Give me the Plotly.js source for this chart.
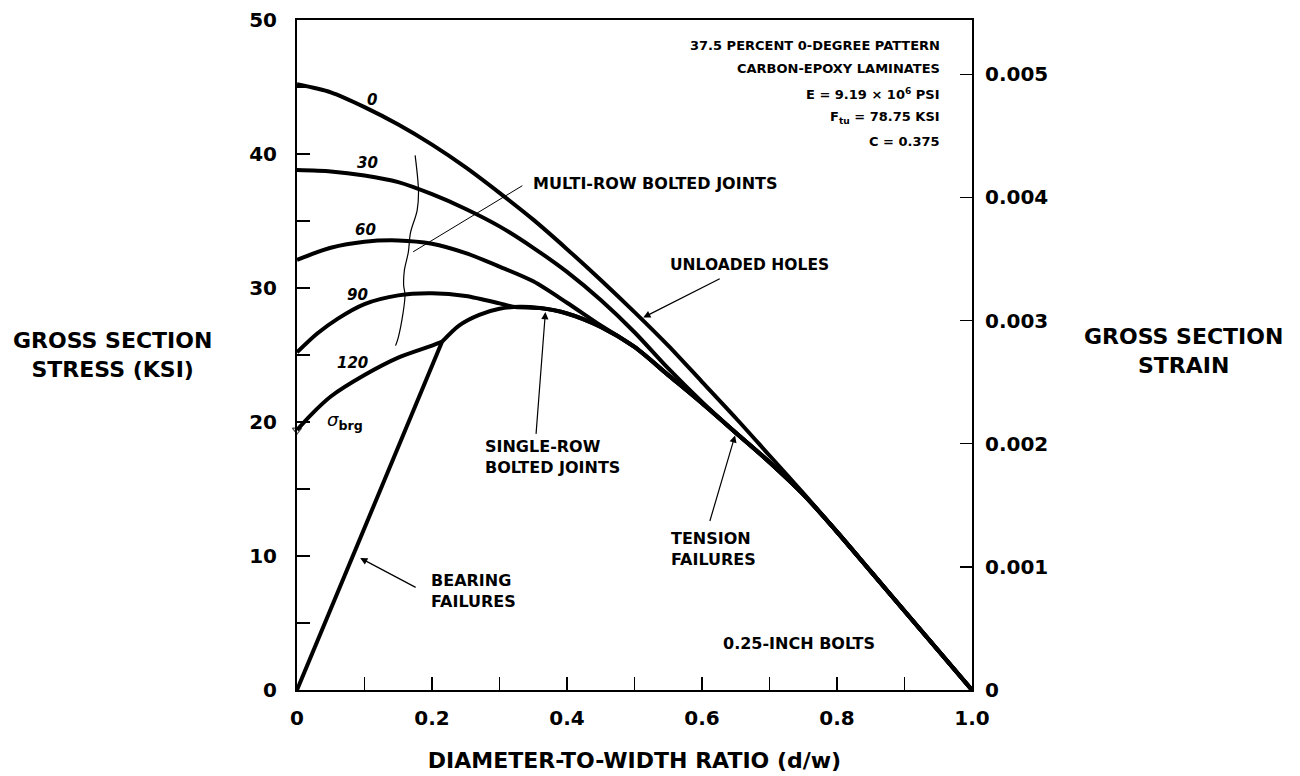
<!DOCTYPE html>
<html>
<head>
<meta charset="utf-8">
<script src="https://cdn.plot.ly/plotly-3.0.1.min.js"></script>
<style>html,body{margin:0;padding:0;background:#fff;}</style>
</head>
<body>
<div id="chart" style="width:1300px;height:776px;"></div>
<script>
// ---- data ----
const E_KSI = 9190; // 9.19e6 psi in ksi -> strain = stress / E

const curve0X = [0, 0.05, 0.1, 0.15, 0.2, 0.25, 0.3, 0.35, 0.4, 0.45, 0.5, 0.55, 0.6, 0.65, 0.7, 0.75, 0.8, 0.85, 0.9, 0.95, 1.0];
const curve0Y = [45.2, 44.6, 43.5, 42.2, 40.7, 39.0, 37.1, 35.1, 32.9, 30.6, 28.2, 25.7, 23.0, 20.3, 17.5, 14.7, 11.8, 8.85, 5.9, 2.95, 0];

const curve30X = [0, 0.05, 0.1, 0.15, 0.2, 0.25, 0.3, 0.35, 0.4, 0.45, 0.5, 0.55, 0.6, 0.65, 0.7, 0.75, 0.8, 0.85, 0.9, 0.95, 1.0];
const curve30Y = [38.8, 38.7, 38.4, 37.9, 37.0, 35.9, 34.6, 33.0, 31.2, 29.1, 26.7, 24.0, 21.5, 19.2, 17.0, 14.6, 11.8, 8.85, 5.9, 2.95, 0];

const curve60X = [0, 0.05, 0.1, 0.15, 0.2, 0.25, 0.3, 0.35, 0.4, 0.45, 0.5, 0.55, 0.6, 0.65, 0.7, 0.75, 0.8, 0.85, 0.9, 0.95, 1.0];
const curve60Y = [32.1, 33.0, 33.45, 33.55, 33.3, 32.6, 31.6, 30.5, 28.9, 27.2, 25.6, 23.5, 21.4, 19.2, 17.0, 14.6, 11.8, 8.85, 5.9, 2.95, 0];

const curve90X = [0, 0.03, 0.06, 0.1, 0.15, 0.2, 0.25, 0.3, 0.32, 0.36, 0.4, 0.45, 0.5, 0.55, 0.6, 0.65, 0.7, 0.75, 0.8, 0.85, 0.9, 0.95, 1.0];
const curve90Y = [25.2, 26.6, 27.7, 28.8, 29.45, 29.6, 29.4, 28.85, 28.6, 28.5, 28.1, 27.1, 25.6, 23.5, 21.4, 19.2, 17.0, 14.6, 11.8, 8.85, 5.9, 2.95, 0];

const curve120X = [0, 0.02, 0.05, 0.1, 0.15, 0.2, 0.215];
const curve120Y = [19.4, 20.5, 21.9, 23.5, 24.8, 25.7, 26.0];

const singleRowX = [0.215, 0.24, 0.27, 0.3, 0.33, 0.36, 0.4, 0.45, 0.5, 0.55, 0.6, 0.65, 0.7, 0.75, 0.8, 0.85, 0.9, 0.95, 1.0];
const singleRowY = [26.0, 27.2, 28.0, 28.45, 28.6, 28.5, 28.1, 27.1, 25.6, 23.5, 21.4, 19.2, 17.0, 14.6, 11.8, 8.85, 5.9, 2.95, 0];

const bearingX = [0, 0.215];
const bearingY = [0, 26.0];

const bracketX = [0.175, 0.18, 0.178, 0.168, 0.165, 0.159, 0.158, 0.16, 0.157, 0.15, 0.146];
const bracketY = [39.9, 37.2, 35.8, 34.1, 32.7, 31.3, 30.2, 29.5, 28.1, 26.3, 25.7];

const xTickVals = [0, 0.2, 0.4, 0.6, 0.8, 1.0];
const xTickText = ['0', '0.2', '0.4', '0.6', '0.8', '1.0'];
const xMinorVals = [0.1, 0.3, 0.5, 0.7, 0.9];
const yTickVals = [0, 10, 20, 30, 40, 50];
const yTickText = ['0', '10', '20', '30', '40', '50'];
const yMinorVals = [5, 15, 25, 35, 45];
const y2TickVals = [0, 0.001, 0.002, 0.003, 0.004, 0.005];
const y2TickText = ['0', '0.001', '0.002', '0.003', '0.004', '0.005'];

const curveLabels = ['0', '30', '60', '90', '120'];
const curveLabelX = [0.111, 0.104, 0.101, 0.089, 0.082];
const curveLabelY = [44.0, 39.3, 34.3, 29.5, 24.4];

const infoLines = ['37.5 PERCENT 0-DEGREE PATTERN', 'CARBON-EPOXY LAMINATES', 'E = 9.19 × 10<sup>6</sup> PSI', 'F<sub>tu</sub> = 78.75 KSI', 'C = 0.375'];
const infoY = [48.1, 46.35, 44.5, 42.75, 40.95];

// ---- drawing ----
const FONT = 'DejaVu Sans';
const thick = {color: 'black', width: 4, shape: 'spline', smoothing: 0.8};
function curve(x, y, name) {
  return {x: x, y: y, type: 'scatter', mode: 'lines', name: name, line: thick, hoverinfo: 'skip'};
}
const c120 = curve(curve120X, curve120Y, '120');
c120.mode = 'lines+markers';
c120.cliponaxis = false;
// small open triangle marking sigma_brg at the start of the 120 curve only
c120.marker = {symbol: 'triangle-down-open', color: 'black', line: {width: 1.2, color: 'black'},
  size: curve120X.map((v, i) => (i === 0 ? 8 : 0))};

const traces = [
  curve(curve0X, curve0Y, 'Unloaded holes (0)'),
  curve(curve30X, curve30Y, '30'),
  curve(curve60X, curve60Y, '60'),
  curve(curve90X, curve90Y, '90'),
  c120,
  curve(singleRowX, singleRowY, 'Single-row bolted joints'),
  {x: bearingX, y: bearingY, type: 'scatter', mode: 'lines', name: 'Bearing', line: {color: 'black', width: 4}, hoverinfo: 'skip'},
  {x: bracketX, y: bracketY, type: 'scatter', mode: 'lines', name: 'Multi-row', line: {color: 'black', width: 1.2, shape: 'spline', smoothing: 1}, hoverinfo: 'skip'},
  // strain axis companion (same unloaded-hole curve expressed as strain), invisible
  {x: curve0X, y: curve0Y.map(v => v / E_KSI), yaxis: 'y2', type: 'scatter', mode: 'lines', line: {width: 0}, opacity: 0, hoverinfo: 'skip', showlegend: false}
];

const boldFont = (size) => ({family: FONT, size: size, color: 'black', weight: 'bold'});

const annotations = [];
curveLabels.forEach((t, i) => annotations.push({
  x: curveLabelX[i], y: curveLabelY[i], xref: 'x', yref: 'y', xanchor: 'center', text: t, showarrow: false,
  font: {family: FONT, size: 15, color: 'black', weight: 'bold', style: 'italic'}
}));
annotations.push({x: 0.071, y: 20.1, xref: 'x', yref: 'y', xanchor: 'center', showarrow: false,
  text: '<i>σ</i><sub><b>brg</b></sub>', font: {family: FONT, size: 18, color: 'black'}});
infoLines.forEach((t, i) => annotations.push({
  x: 0.955, y: infoY[i], xref: 'x', yref: 'y', xanchor: 'right', text: t, showarrow: false, font: boldFont(13)
}));
// labels with leaders/arrows
annotations.push({x: 0.346, y: 37.8, xref: 'x', yref: 'y', xanchor: 'left', text: 'MULTI-ROW BOLTED JOINTS', showarrow: false, font: boldFont(16)});
annotations.push({x: 0.172, y: 32.7, ax: 0.336, ay: 37.7, xref: 'x', yref: 'y', axref: 'x', ayref: 'y', text: '', showarrow: true, arrowhead: 0, arrowwidth: 1, arrowcolor: 'black'});

annotations.push({x: 0.55, y: 31.7, xref: 'x', yref: 'y', xanchor: 'left', text: 'UNLOADED HOLES', showarrow: false, font: boldFont(15.5)});
annotations.push({x: 0.513, y: 27.8, ax: 0.6285, ay: 30.75, xref: 'x', yref: 'y', axref: 'x', ayref: 'y', text: '', showarrow: true, arrowhead: 2, arrowsize: 1.2, arrowwidth: 1.2, arrowcolor: 'black'});

annotations.push({x: 0.275, y: 17.4, xref: 'x', yref: 'y', xanchor: 'left', align: 'left', text: 'SINGLE-ROW<br>BOLTED JOINTS', showarrow: false, font: boldFont(16)});
annotations.push({x: 0.368, y: 28.2, ax: 0.354, ay: 19.0, xref: 'x', yref: 'y', axref: 'x', ayref: 'y', text: '', showarrow: true, arrowhead: 2, arrowsize: 1.2, arrowwidth: 1.2, arrowcolor: 'black'});

annotations.push({x: 0.551, y: 10.5, xref: 'x', yref: 'y', xanchor: 'left', align: 'left', text: 'TENSION<br>FAILURES', showarrow: false, font: boldFont(16)});
annotations.push({x: 0.649, y: 19.0, ax: 0.611, ay: 12.5, xref: 'x', yref: 'y', axref: 'x', ayref: 'y', text: '', showarrow: true, arrowhead: 2, arrowsize: 1.2, arrowwidth: 1.2, arrowcolor: 'black'});

annotations.push({x: 0.195, y: 7.4, xref: 'x', yref: 'y', xanchor: 'left', align: 'left', text: 'BEARING<br>FAILURES', showarrow: false, font: boldFont(16)});
annotations.push({x: 0.0936, y: 9.85, ax: 0.178, ay: 7.6, xref: 'x', yref: 'y', axref: 'x', ayref: 'y', text: '', showarrow: true, arrowhead: 2, arrowsize: 1.2, arrowwidth: 1.2, arrowcolor: 'black'});

annotations.push({x: 0.743, y: 3.5, xref: 'x', yref: 'y', xanchor: 'center', text: '0.25-INCH BOLTS', showarrow: false, font: boldFont(16)});

// horizontal axis titles for the two stress/strain axes
annotations.push({x: -0.273, y: 0.5, xref: 'paper', yref: 'paper', xanchor: 'center', yanchor: 'middle', text: 'GROSS SECTION<br>STRESS (KSI)', showarrow: false, font: boldFont(22)});
annotations.push({x: 1.313, y: 0.506, xref: 'paper', yref: 'paper', xanchor: 'center', yanchor: 'middle', text: 'GROSS SECTION<br>STRAIN', showarrow: false, font: boldFont(22)});

const tickStyle = {ticks: 'inside', ticklen: 13, tickwidth: 1.5, tickcolor: 'black'};
const axisCommon = Object.assign({
  showgrid: false, zeroline: false, showline: true, linecolor: 'black', linewidth: 2,
  tickfont: boldFont(20)
}, tickStyle);

const layout = {
  width: 1300, height: 776,
  margin: {l: 297, r: 328, t: 20, b: 86},
  paper_bgcolor: 'white', plot_bgcolor: 'white',
  showlegend: false,
  font: {family: FONT, color: 'black'},
  xaxis: Object.assign({}, axisCommon, {
    range: [0, 1], tickmode: 'array', tickvals: xTickVals, ticktext: xTickText,
    minor: Object.assign({tickvals: xMinorVals}, tickStyle),
    mirror: true, ticklabelstandoff: 9,
    title: {text: 'DIAMETER-TO-WIDTH RATIO (d/w)', font: boldFont(22), standoff: 24}
  }),
  yaxis: Object.assign({}, axisCommon, {
    range: [0, 50], tickmode: 'array', tickvals: yTickVals, ticktext: yTickText,
    minor: Object.assign({tickvals: yMinorVals}, tickStyle),
    ticklabelstandoff: 14
  }),
  yaxis2: Object.assign({}, axisCommon, {
    range: [0, 50 / E_KSI], overlaying: 'y', side: 'right', anchor: 'x',
    tickmode: 'array', tickvals: y2TickVals, ticktext: y2TickText,
    ticklen: 12, ticklabelstandoff: 7
  }),
  annotations: annotations
};

Plotly.newPlot('chart', traces, layout, {staticPlot: true, displayModeBar: false});
</script>
</body>
</html>
